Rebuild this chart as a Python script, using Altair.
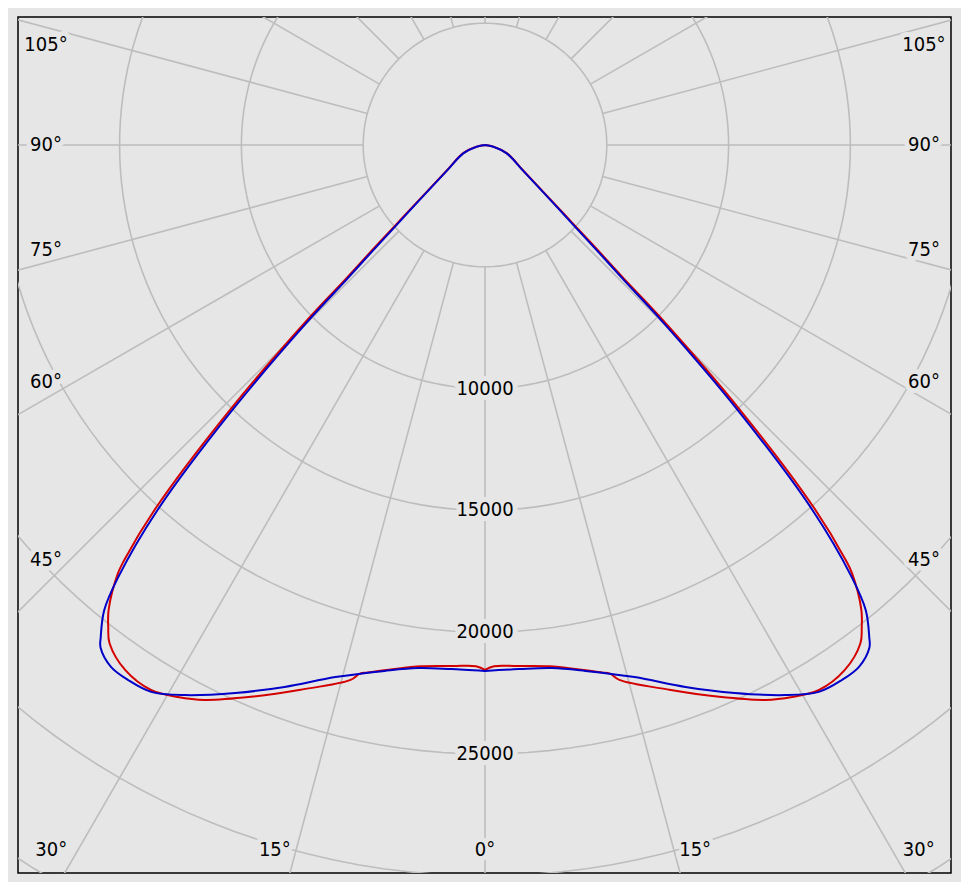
import altair as alt
import pandas as pd
import numpy as np

BG = "#e6e6e6"
GRID = "#bdbdbd"
RED = "#d40000"
BLUE = "#0000c8"
FONT = "DejaVu Sans Condensed, Liberation Sans, DejaVu Sans"

# Luminous intensity (cd) versus angle from nadir (degrees)
red_angle = [0, 1, 3.5, 7, 10, 12.5, 13.3, 14.1, 18.7, 23, 26.8, 29.1, 31.5, 34.4,
             37, 38, 39, 40.6, 41, 42.2, 43.9, 45.5, 46.1, 46.9, 48.2, 49.9, 56.2, 69.5,
             79, 90]
red_cd = [21550, 21400, 21430, 21560, 21850, 22180, 22300, 22640, 23610, 24610, 25520,
          25930, 26240, 26130, 25610, 25120, 24550, 23150, 22560, 20117, 15128, 10073,
          7955, 6502, 4872, 3684, 1898, 955, 350, 0]

blue_angle = [0, 3.7, 7.3, 10.8, 15.7, 20.3, 24.5, 28.6, 31.4, 33.7, 35.6, 37.4, 38.0,
              39.3, 40.3, 41.9, 43.6, 45.2, 45.8, 46.6, 47.9, 49.6, 55.9, 69, 78.5, 90]
blue_cd = [21590, 21560, 21650, 21980, 22690, 23720, 24720, 25720, 26300, 26400, 26360,
           25980, 25620, 24680, 23300, 20117, 15128, 10073, 7955, 6502, 4872, 3684, 1898,
           955, 350, 0]

ring_values = [5000, 10000, 15000, 20000, 25000, 30000, 35000]
ring_label_values = [10000, 15000, 20000, 25000]
spoke_angles = list(range(0, 360, 15))
angle_label_values = [0, 15, 30, 45, 60, 75, 90, 105]


def curve_frame(angles, values):
    rows = []
    for side in (-1, 1):
        for a, v in zip(angles, values):
            rows.append({"side": side, "angle": a, "cd": v, "ord": side * a})
    return pd.DataFrame(rows)


xs = alt.Scale(domain=[-19170, 19130], nice=False, zero=False)
ys = alt.Scale(domain=[-29885, 5255], nice=False, zero=False)

polar = dict(
    px="datum.side * datum.cd * sin(datum.angle * PI / 180)",
    py="-datum.cd * cos(datum.angle * PI / 180)",
)

# grid rings
ring_rows = []
for r in ring_values:
    for t in np.arange(0, 361, 2):
        ring_rows.append({"r": r, "t": float(t)})
rings = alt.Chart(pd.DataFrame(ring_rows)).transform_calculate(
    px="datum.r * sin(datum.t * PI / 180)",
    py="-datum.r * cos(datum.t * PI / 180)",
).mark_line(color=GRID, strokeWidth=1.6, clip=True).encode(
    x=alt.X("px:Q", scale=xs, axis=None),
    y=alt.Y("py:Q", scale=ys, axis=None),
    detail="r:N",
    order="t:Q",
)

# spokes
spoke_rows = []
for a in spoke_angles:
    for r in (5000, 45000):
        spoke_rows.append({"a": a, "r": r})
spokes = alt.Chart(pd.DataFrame(spoke_rows)).transform_calculate(
    px="datum.r * sin(datum.a * PI / 180)",
    py="-datum.r * cos(datum.a * PI / 180)",
).mark_line(color=GRID, strokeWidth=1.6, clip=True).encode(
    x=alt.X("px:Q", scale=xs, axis=None),
    y=alt.Y("py:Q", scale=ys, axis=None),
    detail="a:N",
    order="r:Q",
)

# radial labels
rl_df = pd.DataFrame({"v": ring_label_values})
rl_base = alt.Chart(rl_df).transform_calculate(
    px="0", py="-datum.v", lab="''+datum.v"
).encode(
    x=alt.X("px:Q", scale=xs, axis=None),
    y=alt.Y("py:Q", scale=ys, axis=None),
    text="lab:N",
)
rl_halo = rl_base.mark_text(font=FONT, fontSize=20, align="center", baseline="middle",
                            color=BG, stroke=BG, strokeWidth=10, strokeJoin="round")
rl_text = rl_base.mark_text(font=FONT, fontSize=20, align="center", baseline="middle",
                            color="#000000")

# angle labels
al_rows = []
for a in angle_label_values:
    if a == 0:
        al_rows.append({"a": a, "side": 1})
    else:
        al_rows.append({"a": a, "side": -1})
        al_rows.append({"a": a, "side": 1})
XE = 18020
YB = 28940
al_base = alt.Chart(pd.DataFrame(al_rows)).transform_calculate(
    pa="datum.a == 0 ? 0 : (datum.a < 90 ? datum.a + 1.6 : (datum.a > 90 ? datum.a - 2.2 : 90))",
).transform_calculate(
    sx="sin(datum.pa * PI / 180)",
    sy="cos(datum.pa * PI / 180)",
).transform_calculate(
    t=f"datum.sy > 0.0001 ? min({XE} / datum.sx, {YB} / datum.sy) : {XE} / datum.sx",
).transform_calculate(
    px="datum.side * datum.t * datum.sx",
    py="-datum.t * datum.sy",
    lab="datum.a + '\u00b0'",
).encode(
    x=alt.X("px:Q", scale=xs, axis=None),
    y=alt.Y("py:Q", scale=ys, axis=None),
    text="lab:N",
)
al_halo = al_base.mark_text(font=FONT, fontSize=20, align="center", baseline="middle",
                            color=BG, stroke=BG, strokeWidth=10, strokeJoin="round")
al_text = al_base.mark_text(font=FONT, fontSize=20, align="center", baseline="middle",
                            color="#000000")


def curve_layer(angles, values, color):
    return alt.Chart(curve_frame(angles, values)).transform_calculate(**polar).mark_line(
        color=color, strokeWidth=2, clip=True, interpolate="catmull-rom"
    ).encode(
        x=alt.X("px:Q", scale=xs, axis=None),
        y=alt.Y("py:Q", scale=ys, axis=None),
        order="ord:Q",
    )


red_line = curve_layer(red_angle, red_cd, RED)
blue_line = curve_layer(blue_angle, blue_cd, BLUE)

chart = alt.layer(
    rings, spokes, rl_halo, al_halo, rl_text, al_text, red_line, blue_line
).properties(
    width=933,
    height=856,
    padding={"left": 10, "top": 9, "right": 10, "bottom": 9},
    autosize="none",
    background=BG,
).configure_view(stroke="#000000", strokeWidth=1.5, fill=BG)

chart.save("out.html", embed_options={"renderer": "svg", "actions": False})
